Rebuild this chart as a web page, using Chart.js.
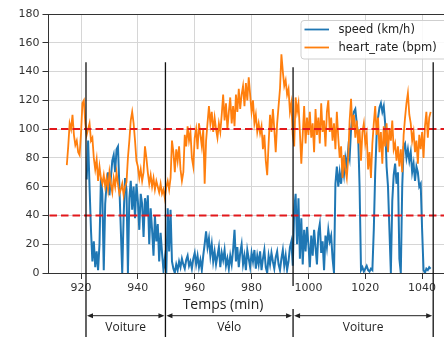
<!DOCTYPE html>
<html><head><meta charset="utf-8">
<script src="https://cdn.jsdelivr.net/npm/chart.js@4"></script>
<style>html,body{margin:0;padding:0;background:#fff;}</style>
</head><body>
<canvas id="c" width="444" height="337"></canvas>
<script>
// ---- data ----
const hrStart = 915, speedStart = 922, step = 0.5; // minutes
const heartRate = [
 75,88,104,100,110,96,89,92,84,82,
 97,118,120,104,96,100,104,92,94,80,
 72,79,64,74,66,62,68,60,66,58,
 70,62,56,66,60,70,62,55,58,62,
 54,60,63,80,92,106,112,104,92,78,
 74,66,72,64,70,88,80,70,62,68,
 60,66,58,64,60,56,62,55,58,52,
 60,64,58,66,92,84,70,86,78,88,
 72,64,70,96,88,102,92,98,80,74,
 94,100,86,104,96,88,100,62,92,104,
 116,104,112,98,108,100,94,104,98,110,
 124,106,118,100,112,122,104,116,102,124,
 112,128,114,124,130,116,132,120,136,124,
 112,120,104,110,98,104,97,102,86,96,
 78,68,90,110,98,114,100,84,104,116,
 128,152,140,130,134,124,128,112,118,96,
 88,122,112,118,98,76,96,116,90,108,
 96,112,94,104,84,114,96,108,90,118,
 98,106,88,112,120,98,108,92,104,86,
 112,94,80,88,66,82,72,66,80,106,
 121,100,110,94,106,90,100,78,98,104,
 90,96,72,84,66,90,104,116,96,108,
 84,98,76,102,88,104,84,100,92,106,
 86,90,78,88,74,86,70,96,108,118,
 125,110,104,92,98,84,92,76,96,86,
 98,80,102,112,94,108,112
];
const speed = [
 65,92,60,30,8,22,4,15,2,20,
 66,55,2,48,62,70,54,66,78,82,
 70,86,88,60,30,0,40,66,58,0,
 52,64,44,60,38,62,50,30,55,48,
 25,52,40,54,20,45,30,12,40,22,
 34,8,28,14,2,10,0,45,15,44,
 8,3,0,6,2,8,4,10,6,3,
 9,12,5,8,3,10,14,6,12,4,
 9,2,12,20,29,18,24,12,20,8,
 15,6,12,18,4,14,9,16,5,10,
 3,12,6,16,30,8,18,4,14,20,
 6,12,2,16,10,4,14,8,16,3,
 12,6,15,2,10,16,4,0,12,6,
 14,8,3,11,15,6,2,10,16,5,
 12,2,8,18,22,5,44,55,20,52,
 10,38,6,30,15,32,20,4,26,12,
 30,18,6,28,34,14,22,2,26,18,
 30,22,26,10,0,62,74,60,70,62,
 75,68,80,74,86,80,100,108,112,114,
 104,96,60,2,4,1,3,5,2,1,
 3,2,30,70,96,108,115,118,112,116,
 104,74,60,30,0,50,68,76,62,70,
 10,0,60,88,90,80,86,78,84,70,
 76,64,74,70,60,62,30,2,0,3,
 2,4,3
];
const seriesLabels = ['speed (km/h)', 'heart_rate (bpm)'];
const xTicks = [920, 940, 960, 980, 1000, 1020, 1040];
const yTicks = [0, 20, 40, 60, 80, 100, 120, 140, 160, 180];
const thresholds = [100, 40];
const segmentBounds = [921.75, 949.7, 994.6, 1043.9];
const segmentLabels = ['Voiture', 'Vélo', 'Voiture'];
const xTitle = 'Temps (min)';

// ---- build ----
const BLUE = '#1f77b4', ORANGE = '#ff7f0e';
const toPts = (arr, start) => arr.map((v, i) => ({x: start + i * step, y: v}));

const overlay = {
  id: 'overlay',
  afterDatasetsDraw(chart) {
    const {ctx, chartArea: a, scales: {x, y}} = chart;
    ctx.save();
    ctx.strokeStyle = '#333'; ctx.lineWidth = 1;
    ctx.beginPath(); ctx.moveTo(a.left, Math.round(a.top) + 0.5); ctx.lineTo(a.right + 10, Math.round(a.top) + 0.5); ctx.stroke();
    ctx.strokeStyle = 'rgb(226,24,28)'; ctx.lineWidth = 2; ctx.setLineDash([7.5, 4]);
    thresholds.forEach(v => {
      const py = y.getPixelForValue(v);
      ctx.beginPath(); ctx.moveTo(a.left + 1, py); ctx.lineTo(a.right, py); ctx.stroke();
    });
    ctx.setLineDash([]);
    ctx.strokeStyle = '#111'; ctx.lineWidth = 1.3;
    const H = chart.height;
    segmentBounds.forEach((b, i) => {
      const px = x.getPixelForValue(b);
      const top = y.getPixelForValue(i === 2 ? 143 : 146.5);
      ctx.beginPath();
      if (i === 2) {
        ctx.moveTo(px, top); ctx.lineTo(px, 286);
        ctx.moveTo(px, 309); ctx.lineTo(px, H);
      } else {
        ctx.moveTo(px, top); ctx.lineTo(px, H);
      }
      ctx.stroke();
    });
    ctx.restore();
  },
  afterDraw(chart) {
    const {ctx, scales: {x}} = chart;
    ctx.save();
    const ay = 315.7;
    ctx.strokeStyle = '#222'; ctx.fillStyle = '#222'; ctx.lineWidth = 1;
    for (let i = 0; i < segmentLabels.length; i++) {
      const x0 = x.getPixelForValue(segmentBounds[i]) + 1;
      const x1 = x.getPixelForValue(segmentBounds[i + 1]) - 1;
      ctx.beginPath(); ctx.moveTo(x0 + 3, ay); ctx.lineTo(x1 - 3, ay); ctx.stroke();
      ctx.beginPath(); ctx.moveTo(x0, ay); ctx.lineTo(x0 + 6, ay - 2.5); ctx.lineTo(x0 + 6, ay + 2.5); ctx.closePath(); ctx.fill();
      ctx.beginPath(); ctx.moveTo(x1, ay); ctx.lineTo(x1 - 6, ay - 2.5); ctx.lineTo(x1 - 6, ay + 2.5); ctx.closePath(); ctx.fill();
      ctx.font = '12px "Open Sans"'; ctx.textAlign = 'center'; ctx.textBaseline = 'middle';
      ctx.fillText(segmentLabels[i], (x0 + x1) / 2, 328);
    }
    ctx.font = '14px "Open Sans"'; ctx.textAlign = 'center'; ctx.textBaseline = 'middle';
    ctx.fillText(xTitle, 223, 305);
    const lx = 301, ly = 20.5, lw = 150, lh = 38.5;
    ctx.fillStyle = 'rgba(255,255,255,0.85)'; ctx.strokeStyle = '#cfcfcf'; ctx.lineWidth = 1;
    ctx.beginPath(); ctx.roundRect(lx, ly, lw, lh, 3); ctx.fill(); ctx.stroke();
    const cols = [BLUE, ORANGE], rows = [29.5, 47.5];
    ctx.font = '11.5px "DejaVu Sans"'; ctx.textAlign = 'left'; ctx.textBaseline = 'middle';
    seriesLabels.forEach((lab, i) => {
      ctx.strokeStyle = cols[i]; ctx.lineWidth = 1.8;
      ctx.beginPath(); ctx.moveTo(304.5, rows[i]); ctx.lineTo(329, rows[i]); ctx.stroke();
      ctx.fillStyle = '#222'; ctx.fillText(lab, 338.5, rows[i] + 0.5);
    });
    ctx.restore();
  }
};

const tickFont = {family: 'DejaVu Sans', size: 11};
new Chart(document.getElementById('c'), {
  type: 'line',
  data: {
    datasets: [
      {label: seriesLabels[0], data: toPts(speed, speedStart), borderColor: BLUE, borderWidth: 2, pointRadius: 0, tension: 0, order: 2},
      {label: seriesLabels[1], data: toPts(heartRate, hrStart), borderColor: ORANGE, borderWidth: 1.8, pointRadius: 0, tension: 0, order: 1}
    ]
  },
  options: {
    responsive: false, animation: false, devicePixelRatio: 1,
    layout: {padding: {top: 14, right: 0, left: 0, bottom: 0}},
    plugins: {legend: {display: false}, tooltip: {enabled: false}},
    scales: {
      x: {
        type: 'linear', min: 908.56, max: 1047.7,
        afterBuildTicks: s => { s.ticks = xTicks.map(v => ({value: v})); },
        afterFit: s => { s.height = 64; },
        ticks: {font: tickFont, color: '#333', padding: 3, maxRotation: 0, autoSkip: false, callback: v => String(v)},
        grid: {color: '#d6d6d6', lineWidth: 1, tickColor: '#333', tickLength: 6},
        border: {display: true, color: '#333', width: 1}
      },
      y: {
        min: 0, max: 180,
        afterBuildTicks: s => { s.ticks = yTicks.map(v => ({value: v})); },
        afterFit: s => { s.width = 48.5; },
        ticks: {font: tickFont, color: '#333', padding: 3, callback: v => String(v)},
        grid: {color: '#d6d6d6', lineWidth: 1, tickColor: '#333', tickLength: 6},
        border: {display: true, color: '#333', width: 1}
      }
    }
  },
  plugins: [overlay]
});
</script>
</body></html>
